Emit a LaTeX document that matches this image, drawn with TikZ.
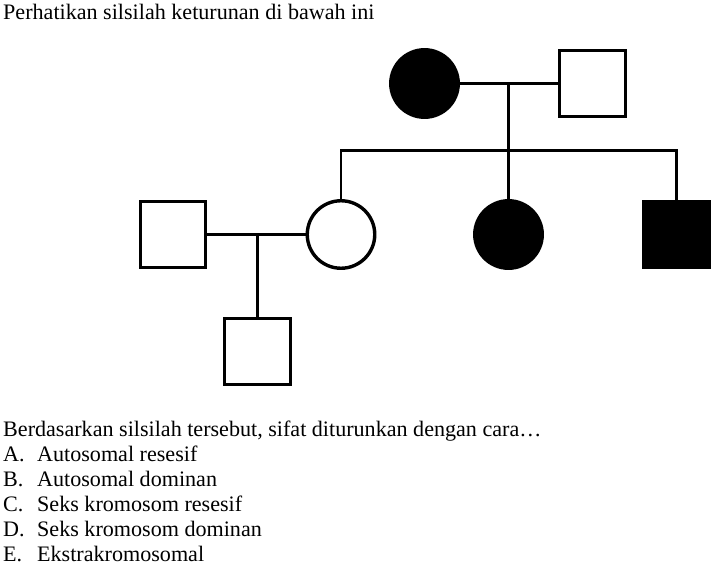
\documentclass[tikz,border=0pt]{standalone}
\usepackage{fontspec}
\setmainfont{Liberation Serif}
\begin{document}
\begin{tikzpicture}[x=1pt,y=-1pt,
  shp/.style={draw=black,line width=3.4pt,inner sep=0pt},
  fem/.style={shp,circle,minimum size=67.5pt},
  mal/.style={shp,rectangle,minimum size=65.5pt},
  aff/.style={fill=black},
  link/.style={line width=2.5pt},
  txt/.style={anchor=base west,inner sep=0pt,font=\fontsize{22.1}{25}\selectfont}]
\useasboundingbox (0,0) rectangle (714,567);
% generation I
\node[fem,aff] (gm) at (424.5,83.5) {};
\node[mal] (gf) at (592.5,83.5) {};
% generation II
\node[mal] (h) at (173,234.5) {};
\node[fem] (c1) at (341,234.5) {};
\node[fem,aff] (c2) at (508.5,234.5) {};
\node[mal,aff] (c3) at (676.5,234.5) {};
% generation III
\node[mal] (g) at (257.5,351.5) {};
% connectors
\coordinate (m1) at (508.5,83.5);
\coordinate (sL) at (341,150.5);
\coordinate (sR) at (676.5,150.5);
\coordinate (m2) at (257.5,234.5);
\draw[link] (gm.east) -- (gf.west);
\draw[link] (m1) -- (c2.north);
\draw[link] (c1.north) -- (sL) -- (sR) -- (c3.north);
\draw[link] (h.east) -- (c1.west);
\draw[link] (m2) -- (g.north);
% texts
\node[txt] (t0) at (3,20) {Perhatikan silsilah keturunan di bawah ini};
\node[txt] (t1) at (3,436) {Berdasarkan silsilah tersebut, sifat diturunkan dengan cara…};
\node[txt] (tA) at (3,461) {\makebox[34pt][l]{A.}Autosomal resesif};
\node[txt] (tB) at (3,486) {\makebox[34pt][l]{B.}Autosomal dominan};
\node[txt] (tC) at (3,511) {\makebox[34pt][l]{C.}Seks kromosom resesif};
\node[txt] (tD) at (3,536) {\makebox[34pt][l]{D.}Seks kromosom dominan};
\node[txt] (tE) at (3,561) {\makebox[34pt][l]{E.}Ekstrakromosomal};
\end{tikzpicture}
\end{document}
